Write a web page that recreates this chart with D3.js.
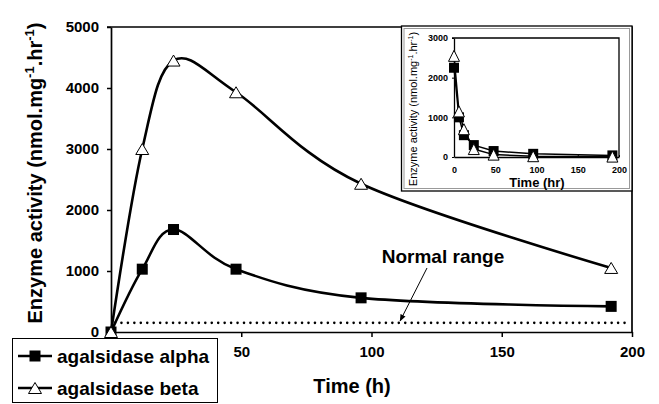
<!DOCTYPE html>
<html>
<head>
<meta charset="utf-8">
<script src="https://cdn.jsdelivr.net/npm/d3@7"></script>
<style>
  body { margin: 0; background: #fff; }
  text { font-family: "Liberation Sans", Arial, sans-serif; fill: #000; }
</style>
</head>
<body>
<div id="chart-area"></div>
<script>
// main panel: enzyme activity over time (h)
const timeMain = [0, 12, 24, 48, 96, 192];
const alphaMain = [0, 1030, 1680, 1030, 560, 420];
const betaMain = [0, 3000, 4450, 3930, 2430, 1050];
const xTicksMain = [50, 100, 150, 200]; // the 0 label sits under the legend box
const yTicksMain = [0, 1000, 2000, 3000, 4000, 5000];
const normalRange = 150;

// inset panel
const timeInset = [0, 6, 12, 24, 48, 96, 192];
const alphaInset = [2250, 1000, 550, 300, 150, 80, 40];
const betaInset = [2550, 1150, 700, 200, 60, 20, 10];
const xTicksInset = [0, 50, 100, 150, 200];
const yTicksInset = [0, 1000, 2000, 3000];

const seriesNames = ["agalsidase alpha", "agalsidase beta"];

const WIDTH = 659, HEIGHT = 404;
const FONT = '"Liberation Sans", Arial, sans-serif';
const fmt = d3.format("d");

const svg = d3.select("#chart-area").append("svg")
  .attr("width", WIDTH)
  .attr("height", HEIGHT);

svg.append("defs").append("marker")
  .attr("id", "arrow")
  .attr("viewBox", "0 0 10 10")
  .attr("refX", 9).attr("refY", 5)
  .attr("markerWidth", 7).attr("markerHeight", 7)
  .attr("orient", "auto")
  .append("path")
  .attr("d", "M0,1 L10,5 L0,9 z")
  .attr("fill", "#000");

const x = d3.scaleLinear().domain([0, 200]).range([111, 632]);
const y = d3.scaleLinear().domain([0, 5000]).range([332, 27]);

const square = (g, cx, cy, s) => g.append("rect")
  .attr("x", cx - s / 2).attr("y", cy - s / 2)
  .attr("width", s).attr("height", s)
  .attr("fill", "#000");

const triangle = (g, cx, cy, w, h) => g.append("path")
  .attr("d", `M${cx},${cy - h / 2} L${cx + w / 2},${cy + h / 2} L${cx - w / 2},${cy + h / 2} Z`)
  .attr("fill", "#fff").attr("stroke", "#000").attr("stroke-width", 1);

// frame (top + right)
svg.append("path")
  .attr("d", `M${x(0) - 4},${y(5000)} H${x(200)} V${y(0)}`)
  .attr("fill", "none").attr("stroke", "#000").attr("stroke-width", 1.7);

// axes
const yAxisCall = d3.axisLeft(y).tickValues(yTicksMain).tickFormat(fmt)
  .tickSize(4).tickSizeOuter(0).tickPadding(8);
const yAx = svg.append("g").attr("transform", `translate(${x(0)},0)`).call(yAxisCall);
yAx.selectAll("text").style("font", `bold 15px ${FONT}`);

const xAxisCall = d3.axisBottom(x).tickValues(xTicksMain).tickFormat(fmt)
  .tickSize(5).tickSizeOuter(0).tickPadding(9);
const xAx = svg.append("g").attr("transform", `translate(0,${y(0)})`).call(xAxisCall);
xAx.selectAll("text").style("font", `bold 15px ${FONT}`);

svg.selectAll(".domain").attr("stroke-width", 1.7);
svg.selectAll(".tick line").attr("stroke-width", 1.5);

// normal range dotted line
svg.append("line")
  .attr("x1", x(0) + 4).attr("x2", x(200) - 2)
  .attr("y1", y(normalRange)).attr("y2", y(normalRange))
  .attr("stroke", "#000").attr("stroke-width", 2.6)
  .attr("stroke-linecap", "round")
  .attr("stroke-dasharray", "0,6.45");

// series lines
const line = d3.line()
  .x((d, i) => x(timeMain[i]))
  .y(d => y(d))
  .curve(d3.curveCatmullRom.alpha(0));

svg.append("path").datum(alphaMain)
  .attr("d", line).attr("fill", "none")
  .attr("stroke", "#000").attr("stroke-width", 2.6);
svg.append("path").datum(betaMain)
  .attr("d", line).attr("fill", "none")
  .attr("stroke", "#000").attr("stroke-width", 2.6);

alphaMain.forEach((v, i) => square(svg, x(timeMain[i]), y(v), 11));
betaMain.forEach((v, i) => triangle(svg, x(timeMain[i]), y(v), 13, 11));

// "Normal range" annotation
svg.append("text")
  .attr("x", 443).attr("y", 263)
  .attr("text-anchor", "middle")
  .style("font", `bold 19px ${FONT}`)
  .text("Normal range");
svg.append("line")
  .attr("x1", 427).attr("y1", 268)
  .attr("x2", x(111)).attr("y2", y(normalRange) - 2)
  .attr("stroke", "#000").attr("stroke-width", 1)
  .attr("marker-end", "url(#arrow)");

// axis titles
svg.append("text")
  .attr("x", 352).attr("y", 393)
  .attr("text-anchor", "middle")
  .style("font", `bold 20px ${FONT}`)
  .text("Time (h)");

const yLab = svg.append("text")
  .attr("transform", "translate(42,173) rotate(-90)")
  .attr("text-anchor", "middle")
  .style("font", `bold 20px ${FONT}`);
yLab.append("tspan").text("Enzyme activity (nmol.mg");
yLab.append("tspan").attr("dy", -8).style("font-size", "13px").text("-1");
yLab.append("tspan").attr("dy", 8).text(".hr");
yLab.append("tspan").attr("dy", -8).style("font-size", "13px").text("-1");
yLab.append("tspan").attr("dy", 8).text(")");

// ---------- inset ----------
const ins = svg.append("g");
ins.append("rect")
  .attr("x", 401.5).attr("y", 26).attr("width", 230.5).attr("height", 165)
  .attr("fill", "#fff").attr("stroke", "#000").attr("stroke-width", 1.3);
ins.append("rect")
  .attr("x", 404).attr("y", 28.5).attr("width", 225.5).attr("height", 160)
  .attr("fill", "none").attr("stroke", "#999").attr("stroke-width", 1);

const xi = d3.scaleLinear().domain([0, 200]).range([454, 619]);
const yi = d3.scaleLinear().domain([0, 3000]).range([157, 38]);

ins.append("path")
  .attr("d", `M${xi(0) - 2},${yi(3000)} H${xi(200)} V${yi(0)}`)
  .attr("fill", "none").attr("stroke", "#000").attr("stroke-width", 1.3);

const yiAx = ins.append("g").attr("transform", `translate(${xi(0)},0)`)
  .call(d3.axisLeft(yi).tickValues(yTicksInset).tickFormat(fmt)
    .tickSize(2).tickSizeOuter(0).tickPadding(4));
yiAx.selectAll("text").style("font", `bold 9px ${FONT}`);
const xiAx = ins.append("g").attr("transform", `translate(0,${yi(0)})`)
  .call(d3.axisBottom(xi).tickValues(xTicksInset).tickFormat(fmt)
    .tickSize(-2).tickSizeOuter(0).tickPadding(10));
xiAx.selectAll("text").style("font", `bold 9px ${FONT}`);
ins.selectAll(".domain").attr("stroke-width", 1.3);

const lineInset = d3.line()
  .x((d, i) => xi(timeInset[i]))
  .y(d => yi(d));

ins.append("path").datum(alphaInset)
  .attr("d", lineInset).attr("fill", "none")
  .attr("stroke", "#000").attr("stroke-width", 1.5);
ins.append("path").datum(betaInset)
  .attr("d", lineInset).attr("fill", "none")
  .attr("stroke", "#000").attr("stroke-width", 1.5);

alphaInset.forEach((v, i) => square(ins, xi(timeInset[i]), yi(v), 10));
betaInset.forEach((v, i) => triangle(ins, xi(timeInset[i]), yi(v), 11, 11));

ins.append("text")
  .attr("x", 537).attr("y", 187)
  .attr("text-anchor", "middle")
  .style("font", `bold 13px ${FONT}`)
  .text("Time (hr)");

const yiLab = ins.append("text")
  .attr("transform", "translate(417,109) rotate(-90)")
  .attr("text-anchor", "middle")
  .style("font", `11px ${FONT}`);
yiLab.append("tspan").text("Enzyme activity (nmol.mg");
yiLab.append("tspan").attr("dy", -4).style("font-size", "7px").text("-1");
yiLab.append("tspan").attr("dy", 4).text(".hr");
yiLab.append("tspan").attr("dy", -4).style("font-size", "7px").text("-1");
yiLab.append("tspan").attr("dy", 4).text(")");

// ---------- legend ----------
const leg = svg.append("g");
leg.append("rect")
  .attr("x", 12.5).attr("y", 338.5).attr("width", 205).attr("height", 64)
  .attr("fill", "#fff").attr("stroke", "#000").attr("stroke-width", 1);

seriesNames.forEach((name, i) => {
  const ly = 356 + i * 32;
  leg.append("line")
    .attr("x1", 18).attr("x2", 52).attr("y1", ly).attr("y2", ly)
    .attr("stroke", "#000").attr("stroke-width", 2.6);
  if (i === 0) square(leg, 35, ly, 11);
  else triangle(leg, 35, ly, 13, 11);
  leg.append("text")
    .attr("x", 57).attr("y", ly + 7)
    .style("font", `bold 19px ${FONT}`)
    .text(name);
});
</script>
</body>
</html>
